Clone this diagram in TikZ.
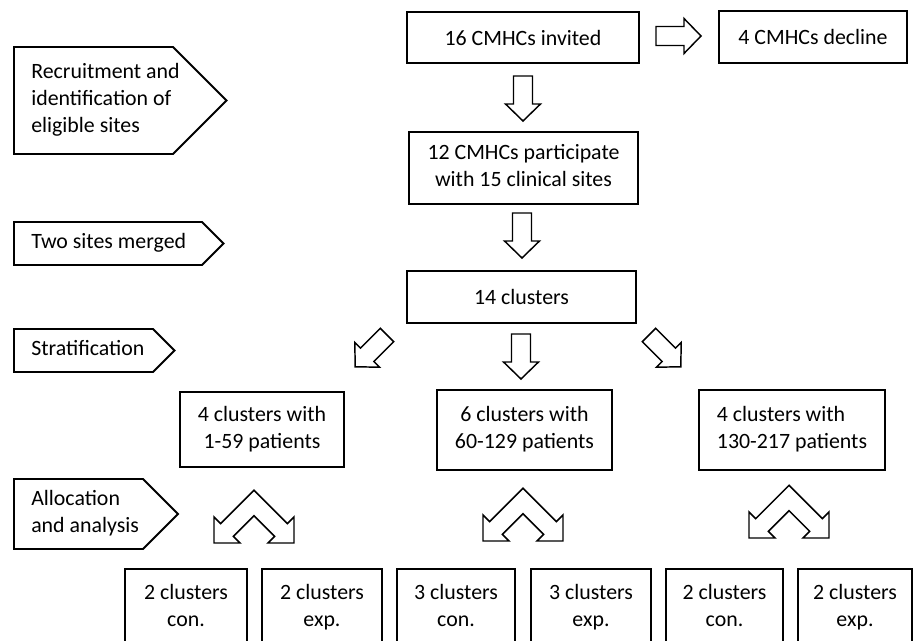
\documentclass[tikz,border=0pt]{standalone}
\usepackage{fontspec}
\setmainfont{Carlito}
\newcommand\bodyfont{\fontsize{16.4pt}{20.2pt}\selectfont}
\tikzset{
  box/.style={draw, line width=1.4pt, font=\bodyfont, align=center, inner sep=0pt},
  lbl/.style={font=\bodyfont, align=left, inner sep=0pt, anchor=west},
  shp/.style={draw, line width=1.4pt, line join=miter},
  arr/.style={draw, line width=1.1pt, line join=miter},
  pics/blockarrow/.style={code={
    \draw[arr] (-9.5,0) -- (9.5,0) -- (9.5,28) -- (17.5,28) -- (0,45) -- (-17.5,28) -- (-9.5,28) -- cycle;
  }},
  pics/duoarrow/.style={code={
    \draw[arr] (-40,0) -- (-40,-26) -- (-33.36,-19.36) -- (0,-52.72) -- (33.36,-19.36) -- (40,-26)
      -- (40,0) -- (14,0) -- (20.64,-6.64) -- (0,-27.28) -- (-20.64,-6.64) -- (-14,0) -- cycle;
  }}
}
\begin{document}
\begin{tikzpicture}[x=0.75pt, y=-0.75pt]
\useasboundingbox (0,0) rectangle (914,641);
\clip (0,0) rectangle (914,641);

% main column boxes
\node[box, minimum width=174pt, minimum height=38.25pt] (invited) at (523,37.5) {16 CMHCs invited};
\node[box, minimum width=141pt, minimum height=39pt] (decline) at (813,37) {4 CMHCs decline};
\node[box, minimum width=171.75pt, minimum height=54pt] (particip) at (523.5,168) {12 CMHCs participate\strut\\with 15 clinical sites\strut};
\node[box, minimum width=171.75pt, minimum height=39pt] (clusters) at (521.5,297) {14 clusters};

% strata
\node[box, minimum width=123pt, minimum height=56.25pt] (sA) at (262,429.5) {4 clusters with\strut\\1-59 patients\strut};
\node[box, minimum width=131.25pt, minimum height=60pt] (sB) at (524.5,430) {6 clusters with\strut\\60-129 patients\strut};
\node[box, minimum width=139.5pt, minimum height=60pt, align=left] (sC) at (792,430) {4 clusters with\strut\\130-217 patients\strut};

% allocation boxes (cut off by the lower edge)
\node[box, minimum width=91.5pt, minimum height=58.5pt] (aCon) at (186,608) {2 clusters\strut\\con.\strut};
\node[box, minimum width=90pt, minimum height=58.5pt] (aExp) at (322,608) {2 clusters\strut\\exp.\strut};
\node[box, minimum width=88.5pt, minimum height=58.5pt] (bCon) at (456,608) {3 clusters\strut\\con.\strut};
\node[box, minimum width=90pt, minimum height=58.5pt] (bExp) at (591,608) {3 clusters\strut\\exp.\strut};
\node[box, minimum width=87.75pt, minimum height=58.5pt] (cCon) at (724.5,608) {2 clusters\strut\\con.\strut};
\node[box, minimum width=85.5pt, minimum height=58.5pt] (cExp) at (855,608) {2 clusters\strut\\exp.\strut};

% stage labels
\draw[shp] (14,47) -- (173,47) -- (226.5,100.5) -- (173,154) -- (14,154) -- cycle;
\node[lbl] (recruit) at (31,100.5) {Recruitment and\strut\\identification of\strut\\eligible sites\strut};
\draw[shp] (14,222) -- (202,222) -- (223.5,243.5) -- (202,265) -- (14,265) -- cycle;
\node[lbl] (merged) at (31,243.5) {Two sites merged\strut};
\draw[shp] (14,329) -- (153,329) -- (174.5,350.5) -- (153,372) -- (14,372) -- cycle;
\node[lbl] (strat) at (31,350.5) {Stratification\strut};
\draw[shp] (14,479) -- (143,479) -- (178,514) -- (143,549) -- (14,549) -- cycle;
\node[lbl] (alloc) at (31,514) {Allocation\strut\\and analysis\strut};

% block arrows
\pic at (523,76) {blockarrow};
\pic[rotate=90] at (656,36) {blockarrow};
\pic at (522,213) {blockarrow};
\pic at (521,334) {blockarrow};
\pic[rotate=-45] at (387,335) {blockarrow};
\pic[rotate=45] at (649,335) {blockarrow};

% two-headed bent arrows
\pic at (254,543) {duoarrow};
\pic at (523,541) {duoarrow};
\pic at (789,538) {duoarrow};
\end{tikzpicture}
\end{document}
